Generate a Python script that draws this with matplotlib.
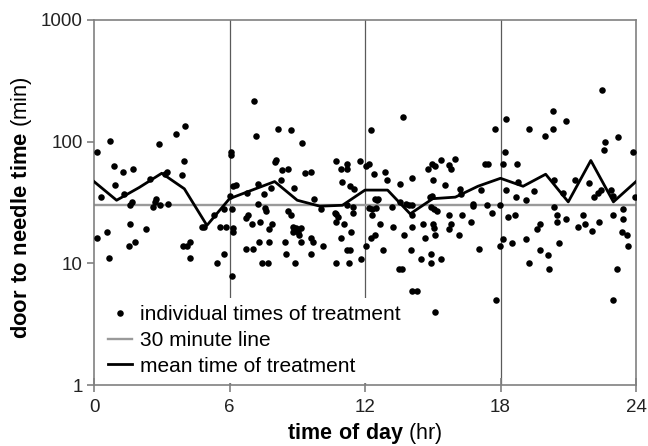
import matplotlib
matplotlib.use("Agg")
import matplotlib.pyplot as plt
from matplotlib.ticker import FixedLocator, NullLocator, FixedFormatter

plt.rcParams['font.family'] = ['Liberation Sans', 'DejaVu Sans']
plt.rcParams['mathtext.fontset'] = 'custom'
plt.rcParams['mathtext.rm'] = 'Liberation Sans'
plt.rcParams['mathtext.bf'] = 'Liberation Sans:bold'

# individual door-to-needle times: hour of day, minutes
point_hours = [
    0.12, 0.15, 0.30, 0.56, 0.66, 0.70, 0.87, 0.93, 1.27, 1.33, 1.56, 1.59, 1.59, 1.70, 1.73, 1.83,
    2.30, 2.47, 2.63, 2.72, 2.75, 2.88, 2.92, 3.14, 3.22, 3.26, 3.62, 3.91, 3.95, 4.00, 4.02, 4.10,
    4.25, 4.25, 4.78, 4.86, 5.30, 5.46, 5.60, 5.77, 5.77, 5.83,
    6.02, 6.05, 6.07, 6.12, 6.11, 6.14, 6.16, 6.17, 6.27, 6.72, 6.80, 6.79, 6.72, 7.01, 7.03, 7.10,
    7.19, 7.26, 7.28, 7.32, 7.35, 7.45, 7.54, 7.59, 7.60, 7.72, 7.77, 7.77, 7.84, 7.90, 8.02, 8.07,
    8.15, 8.28, 8.31, 8.47, 8.49, 8.59, 8.59, 8.74, 8.74, 8.83, 8.87, 8.92, 8.93, 8.81, 9.05, 9.07,
    9.17, 9.17, 9.21, 9.35, 9.60, 9.61, 9.62, 9.71, 9.73, 10.05, 10.15, 10.66, 10.73, 10.82, 10.70,
    10.73, 10.73, 10.92, 10.95, 11.00, 11.05, 11.20, 11.20, 11.20, 11.19, 11.31, 11.34, 11.35, 11.37,
    11.48, 11.48, 11.51, 11.77, 11.84, 12.03, 12.03,
    12.19, 12.28, 12.28, 12.31, 12.33, 12.39, 12.43, 12.43, 12.49, 12.52, 12.59, 12.67, 12.79, 12.89,
    12.98, 12.17, 13.18, 13.23, 13.52, 13.64, 13.55, 13.55, 13.68, 13.74, 13.80, 13.96, 14.04, 14.07,
    14.10, 14.10, 14.10, 14.10, 14.29, 14.50, 14.58, 14.66, 14.80, 14.88, 14.92, 14.91, 14.91, 14.95,
    14.98, 15.00, 15.03, 15.06, 15.07, 15.10, 15.12, 15.12, 15.19, 15.37, 15.38, 15.54, 15.71, 15.72,
    15.74, 15.81, 15.81, 16.00, 16.18, 16.20, 16.25, 16.30, 16.70, 16.77, 16.80, 17.04, 17.15, 17.30,
    17.40, 17.44, 17.64, 17.75, 17.82, 17.98, 17.99,
    18.10, 18.13, 18.19, 18.23, 18.23, 18.33, 18.50, 18.66, 18.70, 18.75, 18.78, 19.12, 19.12, 19.25,
    19.25, 19.49, 19.60, 19.75, 19.77, 19.96, 20.10, 20.14, 20.34, 20.34, 20.37, 20.39, 20.50, 20.50,
    20.60, 20.77, 20.90, 20.90, 21.29, 21.45, 21.64, 21.76, 21.90, 22.03, 22.12, 22.30, 22.35, 22.44,
    22.50, 22.57, 22.62, 22.88, 22.98, 22.99, 23.00, 23.18, 23.22, 23.38, 23.44, 23.44, 23.59, 23.65,
    23.87, 23.96,
]
point_minutes = [
    16, 83, 35, 18, 11, 102, 63, 44, 56, 37, 14, 30, 21, 32, 60, 15,
    19, 49, 29, 32, 34, 96, 30, 54, 56, 31, 116, 53, 14, 70, 135, 14,
    15, 11, 20, 20, 25, 10, 20, 12, 28, 20,
    36, 82, 77, 28, 7.9, 18, 19.5, 43, 44, 23.5, 25, 38, 13, 21, 13, 217,
    111, 45, 31, 15, 22, 10, 37, 28.6, 27, 10, 15, 19, 42, 21, 68, 71,
    128, 48, 59, 15, 12, 60, 27, 124, 25, 20, 42, 10, 19.6, 18, 18, 17,
    19.5, 15, 97, 55, 56, 16, 12, 15, 34, 28, 14, 26, 25.5, 24, 22,
    70, 10, 60, 16, 47, 21, 66, 60, 30, 12.8, 10, 12.8, 43, 18,
    29, 26, 41, 69, 10.9, 63, 14,
    28.5, 124, 16, 25, 28, 54, 34, 17, 28.6, 33, 34, 21, 12.8, 56,
    48, 66, 29, 20, 8.9, 8.9, 45, 32, 160, 17, 30.5, 30, 12.8, 50,
    30, 25, 20, 5.9, 5.9, 10.9, 21, 16, 60, 35, 29, 12, 10, 65,
    36, 48, 21, 28, 19.7, 63, 17, 4.0, 27, 10.9, 71, 44, 64, 25,
    19, 60, 21, 72, 17, 41, 37, 25, 22, 29.5, 31, 13, 40, 65,
    30, 65, 26, 128, 4.95, 30, 14,
    65, 15.8, 83, 153, 40, 24, 14.8, 25, 35, 65, 47, 33, 15.8, 127,
    10, 39, 19, 21, 12.8, 112, 11.8, 8.9, 180, 127, 48.5, 29, 25, 22,
    14.8, 38, 149, 23, 48, 20, 25, 21, 46, 18.5, 35, 38, 22, 40,
    265, 86, 100, 40, 25, 4.95, 36, 8.9, 110, 18, 28, 23, 17, 14,
    82, 35,
]

# hourly mean time of treatment
mean_hours = list(range(25))
mean_minutes = [47, 33, 42, 55, 41, 20.5, 34, 40, 47, 33, 29.5, 30, 40, 40, 25.5,
                34, 35, 43, 50, 43, 54, 32, 70, 32, 47]

target_line = 30
x_ticks = [0, 6, 12, 18, 24]
y_ticks = [1, 10, 100, 1000]
y_tick_labels = ['1', '10', '100', '1000']

fig = plt.figure(figsize=(6.48, 4.46), dpi=100)
ax = fig.add_axes([94 / 648, 61 / 446, 542 / 648, 365 / 446])

ax.set_yscale('log')
ax.set_xlim(0, 24)
ax.set_ylim(1, 1000)

# vertical gridlines at 6, 12, 18
for g in x_ticks[1:-1]:
    ax.axvline(g, color='#5a5a5a', lw=0.9, zorder=1)

ax.plot(point_hours, point_minutes, 'o', color='black', markersize=4.7,
        markeredgewidth=0, label='individual times of treatment', zorder=3)
ax.axhline(target_line, color='#9a9a9a', lw=1.7, label='30 minute line', zorder=2)
ax.plot(mean_hours, mean_minutes, color='black', lw=2.0, label='mean time of treatment', zorder=4)

ax.xaxis.set_major_locator(FixedLocator(x_ticks))
ax.xaxis.set_minor_locator(NullLocator())
ax.yaxis.set_major_locator(FixedLocator(y_ticks))
ax.yaxis.set_major_formatter(FixedFormatter(y_tick_labels))
ax.yaxis.set_minor_locator(NullLocator())

for s in ax.spines.values():
    s.set_color('#808080')
    s.set_linewidth(1.2)

ax.tick_params(axis='y', direction='out', length=5, width=1.2, color='#808080',
               labelsize=13.5, labelcolor='#222222', pad=3)
ax.tick_params(axis='x', direction='inout', length=10, width=1.2, color='#808080',
               labelsize=13.5, labelcolor='#222222', pad=5)

leg = ax.legend(loc='lower left', bbox_to_anchor=(0.009, 0.0), frameon=True,
                facecolor='white', edgecolor='none', framealpha=1, fontsize=15,
                handlelength=1.15, handletextpad=0.35, labelspacing=0.32,
                borderpad=0.35, borderaxespad=0.1, markerscale=1.0)
leg.set_zorder(5)

fig.text(21.7 / 648, 1 - 207.5 / 446, r'$\bf{door\ to\ needle\ time}$ (min)',
         rotation=90, ha='center', va='center', fontsize=15.8)
fig.text(365 / 648, 1 - 434 / 446, r'$\bf{time\ of\ day}$ (hr)',
         ha='center', va='center', fontsize=15.5)

fig.savefig('out.png', dpi=100)
